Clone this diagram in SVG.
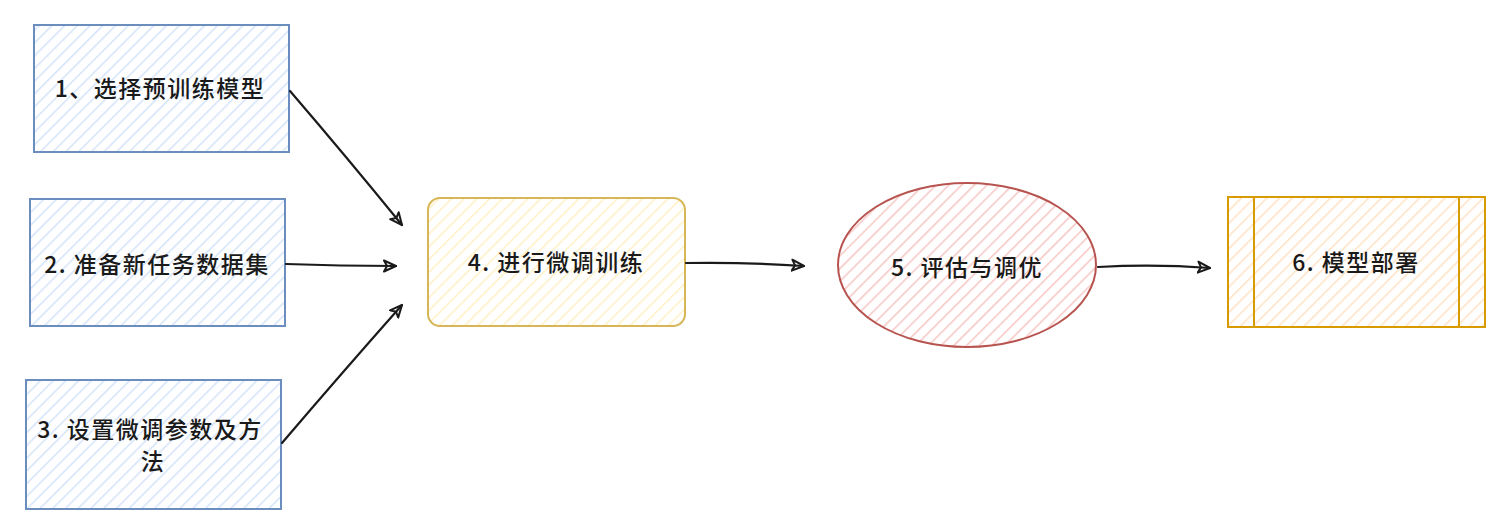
<svg xmlns="http://www.w3.org/2000/svg" width="1507" height="526" viewBox="0 0 1507 526">
<style>
.t{font-family:"Noto Sans CJK SC","Noto Sans",sans-serif;font-size:23px;font-weight:500;letter-spacing:1.5px;fill:#1a1a1a;text-anchor:middle;dominant-baseline:central}
.c{fill:none;stroke:#1a1a1a;stroke-width:2.2;stroke-linecap:round}
.blue{stroke:#6c8ebf;stroke-width:2}
.yel{stroke:#d6b656;stroke-width:2}
.red{stroke:#b85450;stroke-width:2}
.org{stroke:#d79b00;stroke-width:2}
</style>
<defs>
<pattern id="hb" width="9" height="9" patternUnits="userSpaceOnUse" patternTransform="rotate(45)"><rect width="9" height="9" fill="#ffffff"/><line x1="0" y1="0" x2="0" y2="9" stroke="#d4e3fa" stroke-width="3"/></pattern>
<pattern id="hy" width="9" height="9" patternUnits="userSpaceOnUse" patternTransform="rotate(45)"><rect width="9" height="9" fill="#ffffff"/><line x1="0" y1="0" x2="0" y2="9" stroke="#fff0c4" stroke-width="3"/></pattern>
<pattern id="hr" width="9" height="9" patternUnits="userSpaceOnUse" patternTransform="rotate(45)"><rect width="9" height="9" fill="#ffffff"/><line x1="0" y1="0" x2="0" y2="9" stroke="#f6c6c4" stroke-width="3"/></pattern>
<pattern id="ho" width="9" height="9" patternUnits="userSpaceOnUse" patternTransform="rotate(45)"><rect width="9" height="9" fill="#ffffff"/><line x1="0" y1="0" x2="0" y2="9" stroke="#ffe2c4" stroke-width="3"/></pattern>
<marker id="ah" markerWidth="16" markerHeight="14" refX="13" refY="7" orient="auto" markerUnits="userSpaceOnUse"><path d="M1,1.5 L13,7 L1,12.5 L4,7 Z" fill="none" stroke="#1a1a1a" stroke-width="2" stroke-linejoin="round"/></marker>
</defs>
<g id="n1"><rect x="34" y="25" width="255" height="127" fill="url(#hb)" class="blue"/><text class="t" x="160" y="87">1、选择预训练模型</text></g>
<g id="n2"><rect x="30" y="199" width="255" height="127" fill="url(#hb)" class="blue"/><text class="t" x="157" y="263">2. 准备新任务数据集</text></g>
<g id="n3"><rect x="26" y="380" width="255" height="129" fill="url(#hb)" class="blue"/><text class="t" x="150" y="428">3. 设置微调参数及方</text><text class="t" x="153" y="460">法</text></g>
<g id="n4"><rect x="428" y="198" width="257" height="128" rx="12" fill="url(#hy)" class="yel"/><text class="t" x="556" y="261">4. 进行微调训练</text></g>
<g id="n5"><ellipse cx="967" cy="265" rx="129" ry="82" fill="url(#hr)" class="red"/><text class="t" x="967" y="266">5. 评估与调优</text></g>
<g id="n6"><rect x="1228" y="197" width="257" height="130" fill="url(#ho)" class="org"/><line x1="1254" y1="197" x2="1254" y2="327" class="org"/><line x1="1459" y1="197" x2="1459" y2="327" class="org"/><text class="t" x="1356" y="261">6. 模型部署</text></g>
<g id="connectors">
<path class="c" d="M290,91 Q345,155 402,225" marker-end="url(#ah)"/>
<path class="c" d="M286,264 Q340,266 396,266" marker-end="url(#ah)"/>
<path class="c" d="M282,443 Q340,375 402,305" marker-end="url(#ah)"/>
<path class="c" d="M686,263 Q745,262 804,266" marker-end="url(#ah)"/>
<path class="c" d="M1098,267 Q1155,264 1210,268" marker-end="url(#ah)"/>
</g>
</svg>
